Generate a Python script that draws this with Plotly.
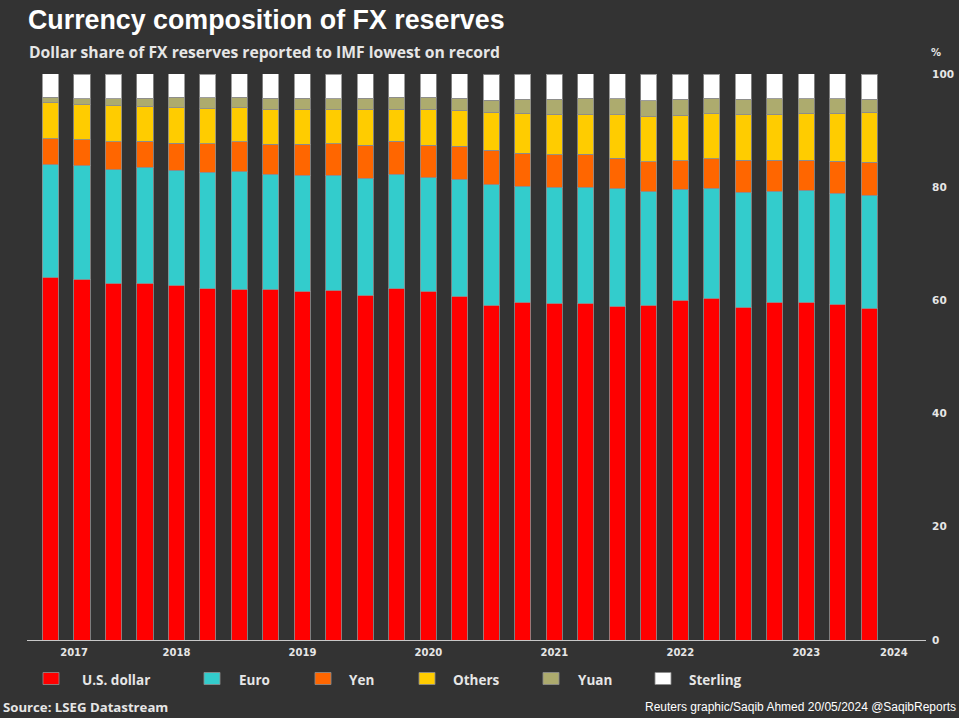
import plotly.graph_objects as go

# ---------------- data ----------------
quarters = [
    "2017 Q1", "2017 Q2", "2017 Q3", "2017 Q4",
    "2018 Q1", "2018 Q2", "2018 Q3", "2018 Q4",
    "2019 Q1", "2019 Q2", "2019 Q3", "2019 Q4",
    "2020 Q1", "2020 Q2", "2020 Q3", "2020 Q4",
    "2021 Q1", "2021 Q2", "2021 Q3", "2021 Q4",
    "2022 Q1", "2022 Q2", "2022 Q3", "2022 Q4",
    "2023 Q1", "2023 Q2", "2023 Q3",
]
usd = [64.1, 63.7, 63.0, 63.0, 62.7, 62.1, 62.0, 62.0, 61.6, 61.8, 60.9, 62.1, 61.6, 60.7,
       59.1, 59.7, 59.5, 59.5, 59.0, 59.1, 60.0, 60.4, 58.8, 59.7, 59.7, 59.3, 58.6]
euro = [19.9, 20.1, 20.1, 20.5, 20.3, 20.5, 20.7, 20.3, 20.5, 20.3, 20.7, 20.2, 20.1, 20.7,
        21.3, 20.5, 20.5, 20.5, 20.7, 20.1, 19.6, 19.4, 20.3, 19.6, 19.8, 19.6, 20.0]
yen = [4.6, 4.6, 4.9, 4.6, 4.8, 5.1, 5.3, 5.3, 5.5, 5.6, 5.8, 5.8, 5.7, 5.8,
       6.1, 5.8, 5.7, 5.8, 5.4, 5.3, 5.1, 5.2, 5.7, 5.5, 5.3, 5.7, 5.8]
others = [6.3, 6.2, 6.4, 6.2, 6.2, 6.2, 6.0, 6.2, 6.2, 6.0, 6.4, 5.7, 6.4, 6.4,
          6.7, 7.1, 7.2, 7.1, 7.7, 8.0, 8.0, 8.0, 8.0, 8.1, 8.3, 8.5, 8.8]
yuan = [1.0, 1.0, 1.2, 1.4, 1.9, 1.9, 1.9, 1.9, 1.9, 1.9, 1.9, 2.1, 2.1, 2.1,
        2.2, 2.4, 2.6, 2.8, 2.8, 2.8, 2.8, 2.7, 2.7, 2.7, 2.5, 2.5, 2.3]
sterling = [4.2, 4.4, 4.4, 4.4, 4.2, 4.2, 4.2, 4.4, 4.4, 4.4, 4.4, 4.2, 4.2, 4.4,
            4.5, 4.5, 4.5, 4.4, 4.5, 4.7, 4.5, 4.3, 4.7, 4.5, 4.5, 4.5, 4.5]

series_names = ["U.S. dollar", "Euro", "Yen", "Others", "Yuan", "Sterling"]
series_values = [usd, euro, yen, others, yuan, sterling]
series_colors = ["#ff0000", "#33cccc", "#ff6600", "#ffcc00", "#adab6e", "#ffffff"]

year_labels = ["2017", "2018", "2019", "2020", "2021", "2022", "2023", "2024"]
year_positions = [0.75, 4, 8, 12, 16, 20, 24, 26.78]
y_ticks = [0, 20, 40, 60, 80, 100]

# ---------------- layout geometry (pixels) ----------------
W, H = 959, 718
L, R, T, B = 27, 926, 74, 640
BG = "#333333"
TXT = "#e6e6e6"


def px(x):
    return (x - L) / (R - L)


def py(y):
    return (B - y) / (B - T)


fig = go.Figure()
xpos = list(range(len(quarters)))
for name, vals, col in zip(series_names, series_values, series_colors):
    fig.add_trace(go.Bar(
        x=xpos, y=vals, name=name, customdata=quarters,
        marker=dict(color=col, line=dict(color="rgba(140,140,140,0.85)", width=1)),
        hovertemplate="%{customdata}<br>" + name + ": %{y:.1f}%<extra></extra>",
        showlegend=False,
    ))

fig.update_layout(
    width=W, height=H,
    barmode="stack", bargap=0.49,
    paper_bgcolor=BG, plot_bgcolor=BG,
    margin=dict(l=L, r=W - R, t=T, b=H - B, autoexpand=False),
    font=dict(family="DejaVu Sans", color=TXT),
    xaxis=dict(
        range=[-0.746, 27.80], tickmode="array", tickvals=year_positions, ticktext=year_labels,
        showgrid=False, zeroline=False, showline=True, linecolor="#c8c8c8", linewidth=1,
        ticks="outside", ticklen=3, tickcolor=BG, automargin=False,
        tickfont=dict(family="DejaVu Sans", size=10, color=TXT, weight="bold"),
    ),
    yaxis=dict(
        range=[0, 100], side="right", tickvals=y_ticks, showgrid=False, zeroline=False,
        showline=False, ticks="outside", ticklen=3, tickcolor=BG, automargin=False,
        tickfont=dict(family="DejaVu Sans", size=10.5, color=TXT, weight="bold"),
    ),
)

ann = []
ann.append(dict(text="<b>Currency composition of FX reserves</b>", x=px(26), y=py(3), xanchor="left",
                yanchor="top", font=dict(family="Liberation Sans", size=26.8, color="#ffffff")))
ann.append(dict(text="<b>Dollar share of FX reserves reported to IMF lowest on record</b>", x=px(26.5), y=py(52),
                xanchor="left", yanchor="middle", font=dict(family="Open Sans", size=15.7, color=TXT)))
ann.append(dict(text="<b>%</b>", x=px(929), y=py(53), xanchor="left", yanchor="middle",
                font=dict(family="DejaVu Sans", size=10, color=TXT)))
ann.append(dict(text="<b>Source: LSEG Datastream</b>", x=px(1), y=py(707), xanchor="left", yanchor="middle",
                font=dict(family="Open Sans", size=13.2, color=TXT)))
ann.append(dict(text="Reuters graphic/Saqib Ahmed 20/05/2024 @SaqibReports", x=px(958), y=py(707),
                xanchor="right", yanchor="middle", font=dict(family="Liberation Sans", size=12, color="#ffffff")))

# legend (drawn from the series lists)
legend_swatch_x = [43, 204, 315, 419, 543, 655]
legend_text_x = [79.5, 236.5, 347, 450.5, 575.5, 687]
shapes = []
for name, col, sx, tx in zip(series_names, series_colors, legend_swatch_x, legend_text_x):
    shapes.append(dict(type="rect", xref="paper", yref="paper", x0=px(sx), x1=px(sx + 16),
                       y0=py(684.5), y1=py(672.5), fillcolor=col,
                       line=dict(color="rgba(140,140,140,0.85)", width=1)))
    ann.append(dict(text="<b>" + name + "</b>", x=px(tx), y=py(680), xanchor="left", yanchor="middle",
                    font=dict(family="Open Sans", size=13.5, color=TXT)))

for a in ann:
    a.update(xref="paper", yref="paper", showarrow=False)
fig.update_layout(annotations=ann, shapes=shapes)

fig.write_html("out.html")
